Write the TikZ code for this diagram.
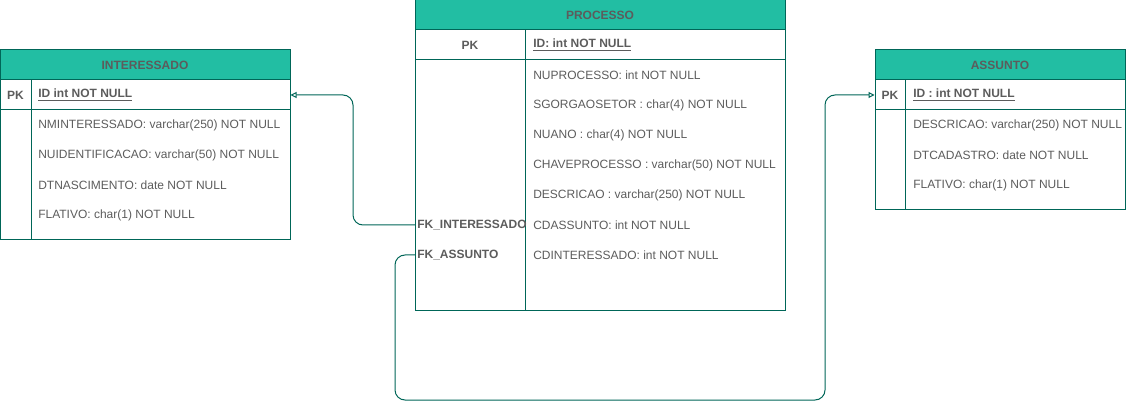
\documentclass[tikz,border=0pt]{standalone}
\usepackage{fontspec}
\setmainfont{Liberation Sans}
\usepackage{tikz}
\usetikzlibrary{arrows.meta}

\definecolor{tealline}{RGB}{0,102,88}
\definecolor{tealfill}{RGB}{34,190,163}
\definecolor{txtgray}{RGB}{92,92,92}

\tikzset{
  tbl/.style={draw=tealline, line width=0.75pt},
  head/.style={draw=tealline, fill=tealfill, line width=0.75pt, minimum height=22.5pt,
    inner sep=0pt, text=txtgray, font=\fontsize{9}{11}\selectfont\bfseries},
  pkrow/.style={draw=tealline, line width=0.75pt, minimum height=22.5pt, inner sep=0pt},
  key/.style={inner sep=1.5pt, text=txtgray, font=\fontsize{9}{11}\selectfont\bfseries},
  fld/.style={anchor=west, inner sep=1.5pt, text=txtgray, font=\fontsize{9}{11}\selectfont},
  conn/.style={draw=tealline, line width=0.75pt, rounded corners=7.5pt,
    -{Triangle[open, length=4.5pt, width=4.5pt]}}
}

\begin{document}
\begin{tikzpicture}[x=0.75pt,y=0.75pt,yscale=-1,xscale=1]
  \useasboundingbox (0,0) rectangle (1126,409);

  % INTERESSADO
  \node[head, minimum width=217.5pt] (interessado) at (145,65) {INTERESSADO};
  \node[pkrow, minimum width=217.5pt] (intpk) at (145,95) {};
  \draw[tbl] (0,110) rectangle (290,240);
  \draw[tbl] (31,80) -- (31,240);
  \node[key] (intpkl) at (15.5,95) {PK};
  \node[fld, font=\fontsize{9}{11}\selectfont\bfseries] (intid) at (36,95) {\underline{ID int NOT NULL}};
  \foreach \txt [count=\i] in {{NMINTERESSADO: varchar(250) NOT NULL},
      {NUIDENTIFICACAO: varchar(50) NOT NULL},
      {DTNASCIMENTO: date NOT NULL},
      {FLATIVO: char(1) NOT NULL}}
    \node[fld] (int\i) at (36,95+30*\i) {\txt};

  % PROCESSO
  \node[head, minimum width=277.5pt] (processo) at (600,15) {PROCESSO};
  \node[pkrow, minimum width=277.5pt] (procpk) at (600,45) {};
  \draw[tbl] (415,60) rectangle (785,310);
  \draw[tbl] (525,30) -- (525,310);
  \node[key] (procpkl) at (470,45) {PK};
  \node[fld, font=\fontsize{9}{11}\selectfont\bfseries] (procid) at (531,45) {\underline{ID: int NOT NULL}};
  \foreach \txt [count=\i] in {{NUPROCESSO: int NOT NULL},
      {SGORGAOSETOR : char(4) NOT NULL},
      {NUANO : char(4) NOT NULL},
      {CHAVEPROCESSO : varchar(50) NOT NULL},
      {DESCRICAO : varchar(250) NOT NULL},
      {CDASSUNTO: int NOT NULL},
      {CDINTERESSADO: int NOT NULL}}
    \node[fld] (proc\i) at (531,45+30*\i) {\txt};
  \node[key, anchor=west] (fkint) at (415,225) {FK\_INTERESSADO};
  \node[key, anchor=west] (fkass) at (415,255) {FK\_ASSUNTO};

  % ASSUNTO
  \node[head, minimum width=187.5pt] (assunto) at (1000,65) {ASSUNTO};
  \node[pkrow, minimum width=187.5pt] (asspk) at (1000,95) {};
  \draw[tbl] (875,110) rectangle (1125,210);
  \draw[tbl] (905,80) -- (905,210);
  \node[key] (asspkl) at (890,95) {PK};
  \node[fld, font=\fontsize{9}{11}\selectfont\bfseries] (assid) at (911,95) {\underline{ID : int NOT NULL}};
  \foreach \txt [count=\i] in {{DESCRICAO: varchar(250) NOT NULL},
      {DTCADASTRO: date NOT NULL},
      {FLATIVO: char(1) NOT NULL}}
    \node[fld] (ass\i) at (911,95+30*\i) {\txt};

  % relacionamentos
  \draw[conn] (fkint.west) -- ++(-62,0) |- (intpk.east);
  \draw[conn] (fkass.west) -- ++(-20,0) -- (395,400) -- (825,400) |- (asspk.west);
\end{tikzpicture}
\end{document}
